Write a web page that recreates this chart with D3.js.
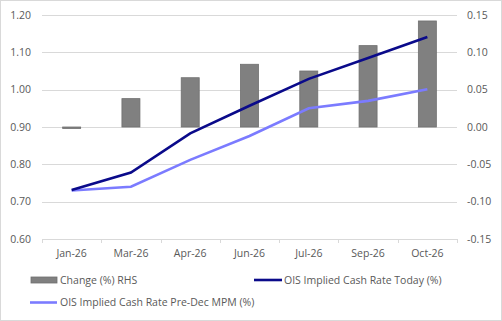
<!DOCTYPE html>
<html>
<head>
<meta charset="utf-8">
<script src="https://cdn.jsdelivr.net/npm/d3@7"></script>
<style>
  body { margin: 0; background: #fff; }
  svg text { font-family: 'Open Sans', 'Noto Sans', sans-serif; fill: #595959; }
</style>
</head>
<body>
<div id="chart"></div>
<script>
var months = ['Jan-26', 'Mar-26', 'Apr-26', 'Jun-26', 'Jul-26', 'Sep-26', 'Oct-26']
var change = [-0.002, 0.038, 0.066, 0.084, 0.075, 0.109, 0.142]
var rateToday = [0.731, 0.778, 0.883, 0.957, 1.029, 1.085, 1.141]
var ratePreDec = [0.730, 0.740, 0.812, 0.876, 0.950, 0.970, 1.001]
var leftTicks = [0.6, 0.7, 0.8, 0.9, 1.0, 1.1, 1.2]
var rightTicks = [-0.15, -0.1, -0.05, 0, 0.05, 0.1, 0.15]

var W = 502, H = 321
var margin = { top: 15, left: 42, right: 45, bottom: 82 }
var width = W - margin.left - margin.right
var height = H - margin.top - margin.bottom

var svg = d3.select('#chart')
  .append('svg')
  .attr('width', W)
  .attr('height', H)

svg.append('rect')
  .attr('x', 0.5).attr('y', 0.5)
  .attr('width', W - 1).attr('height', H - 1)
  .attr('fill', '#fff')
  .attr('stroke', '#d9d9d9')

var g = svg.append('g')
  .attr('transform', 'translate(' + margin.left + ',' + margin.top + ')')

var xScale = d3.scaleBand().domain(months).range([0, width])
var yLeft = d3.scaleLinear().domain([0.6, 1.2]).range([height, 0])
var yRight = d3.scaleLinear().domain([-0.15, 0.15]).range([height, 0])

// gridlines
g.selectAll('.grid')
  .data(leftTicks.slice(1))
  .enter()
  .append('line')
  .attr('class', 'grid')
  .attr('x1', 0)
  .attr('x2', width)
  .attr('y1', d => Math.round(yLeft(d)) + 0.5)
  .attr('y2', d => Math.round(yLeft(d)) + 0.5)
  .attr('stroke', '#d9d9d9')

// left axis labels
g.selectAll('.ltick')
  .data(leftTicks)
  .enter()
  .append('text')
  .attr('x', -11)
  .attr('y', d => yLeft(d))
  .attr('dy', '0.35em')
  .attr('text-anchor', 'end')
  .attr('font-size', 10.5)
  .text(d => d3.format('.2f')(d))

// right axis labels
g.selectAll('.rtick')
  .data(rightTicks)
  .enter()
  .append('text')
  .attr('x', width + 10)
  .attr('y', d => yRight(d))
  .attr('dy', '0.35em')
  .attr('text-anchor', 'start')
  .attr('font-size', 10.5)
  .text(d => d3.format('.2f')(d).replace('−', '-'))

// bars
var barW = 18
g.selectAll('.bar')
  .data(change)
  .enter()
  .append('rect')
  .attr('class', 'bar')
  .attr('x', (d, i) => xScale(months[i]) + xScale.bandwidth() / 2 - barW / 2)
  .attr('y', d => yRight(Math.max(0, d)))
  .attr('width', barW)
  .attr('height', d => Math.max(1.5, Math.abs(yRight(d) - yRight(0))))
  .attr('fill', '#808080')
  .attr('stroke', '#6f6f6f')
  .attr('stroke-width', 0.8)

// x axis
g.append('line')
  .attr('x1', 0).attr('x2', width)
  .attr('y1', height + 0.5).attr('y2', height + 0.5)
  .attr('stroke', '#d9d9d9')

g.selectAll('.xtick')
  .data(months.concat(['end']))
  .enter()
  .append('line')
  .attr('x1', (d, i) => Math.round(i * xScale.step()) + 0.5)
  .attr('x2', (d, i) => Math.round(i * xScale.step()) + 0.5)
  .attr('y1', height)
  .attr('y2', height + 4)
  .attr('stroke', '#d9d9d9')

g.selectAll('.xlabel')
  .data(months)
  .enter()
  .append('text')
  .attr('x', d => xScale(d) + xScale.bandwidth() / 2)
  .attr('y', height + 18)
  .attr('text-anchor', 'middle')
  .attr('font-size', 10.5)
  .text(d => d)

// lines
var line = d3.line()
  .x((d, i) => xScale(months[i]) + xScale.bandwidth() / 2)
  .y(d => yLeft(d))

g.append('path')
  .datum(ratePreDec)
  .attr('d', line)
  .attr('fill', 'none')
  .attr('stroke', '#7b7bff')
  .attr('stroke-width', 2.6)

g.append('path')
  .datum(rateToday)
  .attr('d', line)
  .attr('fill', 'none')
  .attr('stroke', '#0a0a8a')
  .attr('stroke-width', 2.6)

// legend
var legend = svg.append('g')

legend.append('rect')
  .attr('x', 31).attr('y', 277)
  .attr('width', 26).attr('height', 6)
  .attr('fill', '#808080')
  .attr('stroke', '#6f6f6f')
  .attr('stroke-width', 0.8)
legend.append('text')
  .attr('x', 60).attr('y', 280).attr('dy', '0.35em')
  .attr('font-size', 10.5)
  .text('Change (%) RHS')

legend.append('line')
  .attr('x1', 254).attr('x2', 282)
  .attr('y1', 280).attr('y2', 280)
  .attr('stroke', '#0a0a8a').attr('stroke-width', 2.6)
legend.append('text')
  .attr('x', 284).attr('y', 280).attr('dy', '0.35em')
  .attr('font-size', 10.5)
  .text('OIS Implied Cash Rate Today (%)')

legend.append('line')
  .attr('x1', 30).attr('x2', 57)
  .attr('y1', 302.5).attr('y2', 302.5)
  .attr('stroke', '#7b7bff').attr('stroke-width', 2.6)
legend.append('text')
  .attr('x', 60).attr('y', 302.5).attr('dy', '0.35em')
  .attr('font-size', 10.5)
  .text('OIS Implied Cash Rate Pre-Dec MPM (%)')
</script>
</body>
</html>
